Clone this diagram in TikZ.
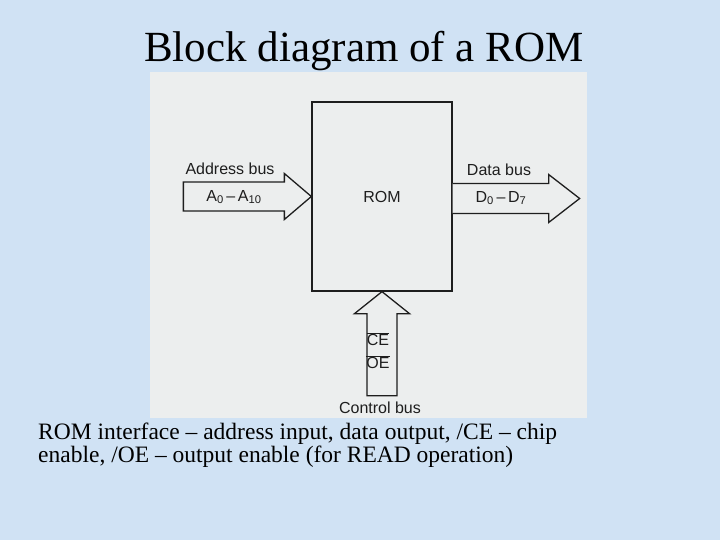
\documentclass[tikz,border=0pt]{standalone}
\usepackage{fontspec}
\setmainfont{Liberation Serif}
\newfontfamily\diagsans{Liberation Sans}
\usetikzlibrary{calc}
\definecolor{slidebg}{RGB}{208,226,244}
\definecolor{scanbg}{RGB}{236,238,238}
\definecolor{inkc}{RGB}{30,30,30}
\tikzset{
  busarrow/.style={draw=inkc, line width=1.3pt, line join=miter, fill=scanbg},
  romblock/.style={draw=inkc, line width=1.3pt, minimum width=140pt, minimum height=189pt, inner sep=0pt},
  lbl/.style={font=\diagsans\fontsize{16}{18}\selectfont, text=inkc, inner sep=0pt},
  captxt/.style={anchor=base west, inner sep=0pt, font=\fontsize{23.5}{26}\selectfont},
}
\begin{document}
\begin{tikzpicture}[x=1pt,y=-1pt]
\fill[slidebg] (0,0) rectangle (720,540);
\useasboundingbox (0,0) rectangle (720,540);
\fill[scanbg] (150,72) rectangle (587,418);
% title
\node[anchor=base, inner sep=0pt, font=\fontsize{43}{48}\selectfont] (title) at (364,62) {Block diagram of a ROM};
% ROM block
\node[romblock] (rom) at (382,196.5) {};
\node[lbl] (romlbl) at (rom.center) {ROM};
% address bus arrow (into ROM)
\coordinate (atip) at (rom.west);
\draw[busarrow] (atip) -- ++(-27,-23) -- ++(0,8.5) -- ++(-101,0) -- ++(0,29) -- ++(101,0) -- ++(0,8.5) -- cycle;
\node[lbl] (addr) at (230,169) {Address bus};
\node[lbl] (alines) at (234,197) {A\textsubscript{0}\,–\,A\textsubscript{10}};
% data bus arrow (out of ROM)
\coordinate (dstart) at ($(rom.east)+(0,1.5)$);
\draw[busarrow] ($(dstart)+(0,-14.5)$) -- ++(96,0) -- ++(0,-9) -- ++(31,24) -- ++(-31,24) -- ++(0,-9) -- ++(-96,0);
\node[lbl] (data) at (499,170) {Data bus};
\node[lbl] (dlines) at (501,198) {D\textsubscript{0}\,–\,D\textsubscript{7}};
% control bus arrow (into ROM)
\coordinate (ctip) at (rom.south);
\draw[busarrow] (ctip) -- ++(27.5,22) -- ++(-12.5,0) -- ++(0,82) -- ++(-30,0) -- ++(0,-82) -- ++(-12.5,0) -- cycle;
\node[lbl] (ce) at (378,339) {$\overline{\hbox{CE}}$};
\node[lbl] (oe) at (378,362) {$\overline{\hbox{OE}}$};
\node[lbl] (ctrl) at (380,408) {Control bus};
% caption
\node[captxt] (cap1) at (38,439) {ROM interface – address input, data output, /CE – chip};
\node[captxt] (cap2) at (38,462.5) {enable, /OE – output enable (for READ operation)};
\end{tikzpicture}
\end{document}
